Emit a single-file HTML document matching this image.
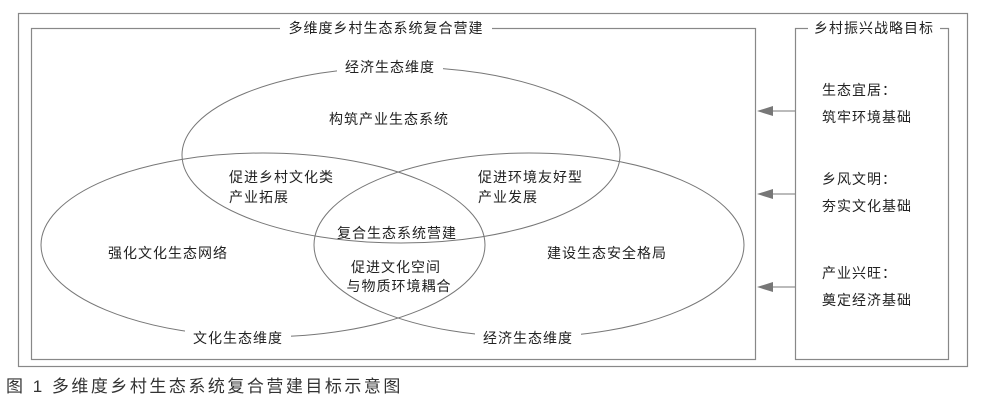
<!DOCTYPE html>
<html><head><meta charset="utf-8"><style>
body{margin:0;background:#fff;}
svg text{font-family:"Liberation Sans","Noto Sans CJK SC",sans-serif;font-size:14px;fill:#222;letter-spacing:1px;}
</style></head><body>
<svg width="997" height="414" viewBox="0 0 997 414" xmlns="http://www.w3.org/2000/svg">
<rect x="18.5" y="13.5" width="949" height="353" fill="none" stroke="#888" stroke-width="1.2"/>
<rect x="31.5" y="28.5" width="724" height="331" fill="none" stroke="#888" stroke-width="1.2"/>
<rect x="795.5" y="28.5" width="153" height="331" fill="none" stroke="#888" stroke-width="1.2"/>
<ellipse cx="401" cy="155" rx="219" ry="88" fill="none" stroke="#777" stroke-width="1"/>
<ellipse cx="263" cy="245" rx="222" ry="92" fill="none" stroke="#777" stroke-width="1"/>
<ellipse cx="529" cy="245" rx="215" ry="92" fill="none" stroke="#777" stroke-width="1"/>
<rect x="280" y="20" width="212" height="16" fill="#fff"/>
<text x="386" y="33" text-anchor="middle">多维度乡村生态系统复合营建</text>
<rect x="808" y="20" width="132" height="16" fill="#fff"/>
<text x="874" y="33" text-anchor="middle">乡村振兴战略目标</text>
<rect x="337" y="59" width="106" height="16" fill="#fff"/>
<text x="390" y="72" text-anchor="middle">经济生态维度</text>
<rect x="185" y="330" width="106" height="16" fill="#fff"/>
<text x="238" y="343" text-anchor="middle">文化生态维度</text>
<rect x="475" y="330" width="106" height="16" fill="#fff"/>
<text x="528" y="343" text-anchor="middle">经济生态维度</text>
<text x="389" y="124" text-anchor="middle">构筑产业生态系统</text>
<text x="229" y="182">促进乡村文化类</text>
<text x="229" y="202">产业拓展</text>
<text x="478" y="182">促进环境友好型</text>
<text x="478" y="202">产业发展</text>
<text x="397" y="238" text-anchor="middle">复合生态系统营建</text>
<text x="168" y="258" text-anchor="middle">强化文化生态网络</text>
<text x="607" y="258" text-anchor="middle">建设生态安全格局</text>
<text x="396" y="272" text-anchor="middle">促进文化空间</text>
<text x="399" y="291" text-anchor="middle">与物质环境耦合</text>
<text x="822" y="95">生态宜居：</text>
<text x="822" y="122">筑牢环境基础</text>
<text x="822" y="184">乡风文明：</text>
<text x="822" y="211">夯实文化基础</text>
<text x="822" y="278">产业兴旺：</text>
<text x="822" y="305">奠定经济基础</text>
<g fill="#777" stroke="#777">
<line x1="773" y1="111" x2="795" y2="111"/><polygon points="757,111 773,106 773,116" stroke="none"/>
<line x1="773" y1="194" x2="795" y2="194"/><polygon points="757,194 773,189 773,199" stroke="none"/>
<line x1="773" y1="287" x2="795" y2="287"/><polygon points="757,287 773,282 773,292" stroke="none"/>
</g>
<text x="6" y="392" style="font-size:17px;letter-spacing:2.5px;fill:#333">图 1 多维度乡村生态系统复合营建目标示意图</text>
</svg>
</body></html>
